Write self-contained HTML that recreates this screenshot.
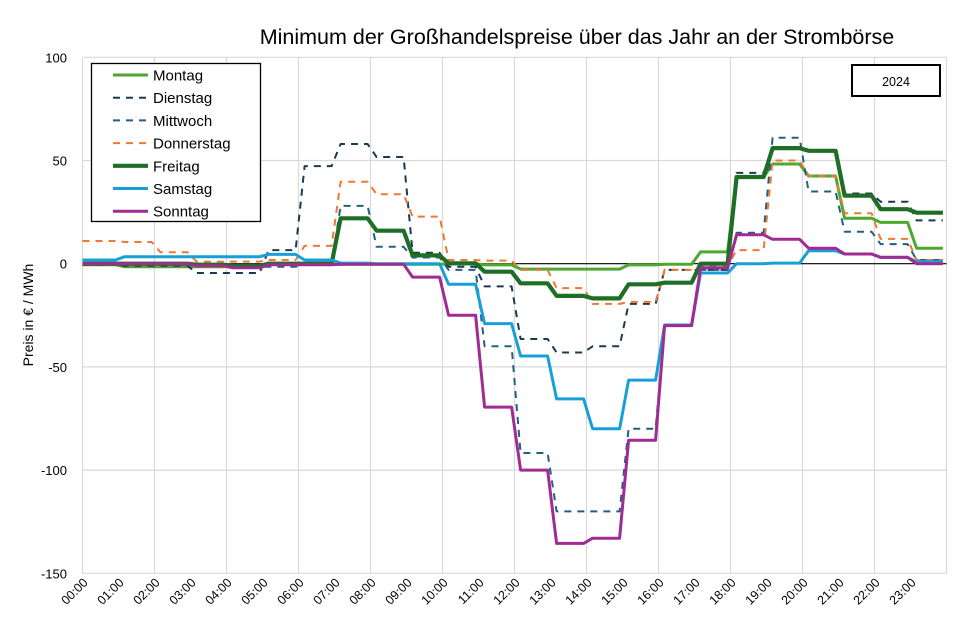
<!DOCTYPE html>
<html><head><meta charset="utf-8"><style>
body{margin:0;background:#fff}
svg{display:block;font-family:"Liberation Sans",sans-serif}
</style></head><body>
<svg id="s" width="977" height="632" xmlns="http://www.w3.org/2000/svg">
<rect width="977" height="632" fill="#fff"/>
<text x="577" y="44" font-size="21.5" text-anchor="middle" fill="#000">Minimum der Großhandelspreise über das Jahr an der Strombörse</text>
<g id="grid" stroke="#d9d9d9" stroke-width="1.2"></g>
<g id="ticks" font-size="13" fill="#000"></g>
<text transform="translate(33,315) rotate(-90)" font-size="14" text-anchor="middle">Preis in € / MWh</text>
<g id="series" fill="none" stroke-linejoin="round"></g>
<rect x="91.5" y="63.5" width="169" height="158" fill="#fff" stroke="#000" stroke-width="1.3"/>
<g id="leg" font-size="15"></g>
<rect x="852" y="65" width="88" height="31" fill="#fff" stroke="#000" stroke-width="2"/>
<text x="896" y="86" font-size="12.5" text-anchor="middle">2024</text>
</svg>
<script>
const L=82.5,R=946.5,T=57.3,B=573.3,ns="http://www.w3.org/2000/svg";
const X=h=>L+h*36, Y=v=>T+(100-v)*(B-T)/250;
function el(p,n,a,t){const e=document.createElementNS(ns,n);for(const k in a)e.setAttribute(k,a[k]);if(t)e.textContent=t;document.getElementById(p).appendChild(e);return e}
for(let v=-150;v<=100;v+=50){ if(v!==0) el('grid','line',{x1:L,x2:R,y1:Y(v),y2:Y(v)});
 el('ticks','text',{x:67,y:Y(v)+5,'text-anchor':'end'},String(v));}
for(let h=0;h<=24;h+=2) el('grid','line',{x1:X(h),x2:X(h),y1:T,y2:B});
for(let h=0;h<24;h++){const x=X(h)+6,y=B+10;el('ticks','text',{x:x,y:y,'text-anchor':'end','font-size':'12.5',transform:`rotate(-45 ${x} ${y})`},(h<10?'0':'')+h+':00');}
el('series','line',{x1:L,x2:R,y1:Y(0),y2:Y(0),stroke:'#000','stroke-width':1.2});
const S=[
['Montag','#4ea72e',3,'',[-0.5,-1.5,-1.5,-1.5,-1,-0.3,-0.3,-0.3,-0.3,-0.3,0,-0.6,-2.6,-2.6,-2.6,-0.6,-0.3,5.7,42,48.3,42.5,22,20,7.5]],
['Dienstag','#1b3a52',2,'7 6',[-0.5,-1,-1,-4.5,-4.5,6.6,47.3,58,51.7,5.3,-1.5,-11,-36.5,-43,-40,-19.5,-3,-3,44,56,55,34,30,21]],
['Mittwoch','#22607e',2,'7 6',[0,-0.5,-0.5,-1,-1.5,-1.5,-0.5,28,8.2,3,-3,-40,-91.7,-120,-120,-80,-30,-3,15,61,35,15.5,9.5,1.8]],
['Donnerstag','#f07830',2,'7 6',[11,10.5,5.5,1,1,1.8,8.6,39.7,33.6,22.8,1.8,1.5,-3,-11.8,-19.5,-18.5,-3,-1,6.6,50,42.5,24.4,12,1.8]],
['Freitag','#1e6f25',4.2,'',[0,0,0,-0.5,-1,0,0,22,16,4,0.2,-3.9,-9.5,-15.6,-16.8,-10,-9.2,0,42,56,54.7,33,26.4,24.7]],
['Samstag','#17a0d8',3,'',[1.8,3.4,3.4,3.4,3.4,4.5,1.8,0.3,0,0,-10,-29,-44.7,-65.5,-80,-56.4,-29.7,-4.5,0,0.3,6.3,4.7,3,1]],
['Sonntag','#a02b93',3,'',[0,0,0,-1,-2,-0.5,-0.5,-0.3,-0.3,-6.5,-25,-69.5,-100,-135.5,-133,-85.5,-30,-2,14,11.8,7.5,4.7,3.1,0]]
];
S.forEach((s,i)=>{const v=s[4];let p=[];
 for(let h=0;h<24;h++){p.push([h==0?0:h+0.17,v[h]]);p.push([h==23?23.9:h+0.92,v[h]]);}
 const d='M'+p.map(q=>X(q[0]).toFixed(1)+','+Y(q[1]).toFixed(1)).join('L');
 const a={d:d,stroke:s[1],'stroke-width':s[2]};if(s[3])a['stroke-dasharray']=s[3];
 el('series','path',a);
 const y=75+i*22.7;const la={x1:113,x2:148,y1:y,y2:y,stroke:s[1],'stroke-width':s[2]};if(s[3])la['stroke-dasharray']=s[3];
 el('leg','line',la);el('leg','text',{x:153,y:y+5.5},s[0]);
});
</script>
</body></html>
